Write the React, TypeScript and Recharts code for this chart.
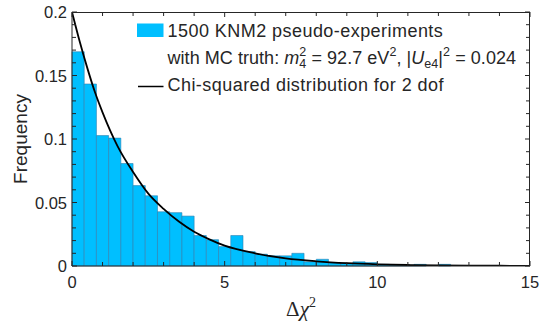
import {
  ComposedChart,
  Line,
  ReferenceArea,
  XAxis,
  YAxis,
} from "recharts";

// histogram: left bin edges (width 0.4) and frequency of each bin
const binEdges = [
  0, 0.4, 0.8, 1.2, 1.6, 2.0, 2.4, 2.8, 3.2, 3.6, 4.0, 4.4, 4.8, 5.2, 5.6, 6.0,
  6.4, 6.8, 7.2, 7.6, 8.0, 8.4, 8.8, 9.2, 9.6, 10.0, 10.4, 10.8, 11.2, 11.6, 12.0,
];
const binFreq = [
  0.1687, 0.1433, 0.1027, 0.1007, 0.0807, 0.0633, 0.0553, 0.0427, 0.042, 0.0393,
  0.024, 0.0207, 0.0153, 0.024, 0.0113, 0.0093, 0.008, 0.008, 0.01, 0.0033,
  0.0053, 0.0027, 0.002, 0.0033, 0.0027, 0.0013, 0.0007, 0.0007, 0.0013, 0,
  0.0013,
];
const BIN_WIDTH = 0.4;

// chi-squared curve
const curveX = [0, 0.25, 0.5, 0.75, 1, 1.5, 2, 2.5, 3, 3.5, 4, 4.5, 5, 6, 7, 8, 9, 10, 11, 12, 13, 14, 15];
const curveY = [
  0.2, 0.177, 0.156, 0.137, 0.121, 0.094, 0.074, 0.057, 0.045, 0.035, 0.027, 0.021,
  0.016, 0.01, 0.006, 0.0037, 0.0022, 0.0013, 0.0008, 0.0005, 0.0003, 0.0002, 0.0001,
];

const xTicks = [0, 1, 2, 3, 4, 5, 6, 7, 8, 9, 10, 11, 12, 13, 14, 15];
const yTicks = [
  0, 0.01, 0.02, 0.03, 0.04, 0.05, 0.06, 0.07, 0.08, 0.09, 0.1, 0.11, 0.12, 0.13,
  0.14, 0.15, 0.16, 0.17, 0.18, 0.19, 0.2,
];
const X_MAX = 15;
const Y_MAX = 0.2;

const W = 547;
const H = 321;
const MARGIN = { top: 12, right: 17, bottom: 25, left: 0 };
const Y_AXIS_W = 72;
const X_AXIS_H = 30;
// plot box that follows from the margins and axis sizes above
const BOX = {
  left: MARGIN.left + Y_AXIS_W,
  top: MARGIN.top,
  right: W - MARGIN.right,
  bottom: H - MARGIN.bottom - X_AXIS_H,
};

const AXIS = "#262626";
const BAR = "#00BFFF";
const FONT = '"Liberation Sans", Arial, sans-serif';

const curveData = curveX.map((x, i) => ({ x, y: curveY[i] }));

const isMajorX = (v: number) => v % 5 === 0;
const isMajorY = (v: number) => Math.round(v * 100) % 5 === 0;

function BottomTick(props: any) {
  const { x, y, payload } = props;
  const major = isMajorX(payload.value);
  return (
    <g>
      <line x1={x} x2={x} y1={y} y2={y - (major ? 5 : 4)} stroke={AXIS} />
      {major && (
        <text x={x} y={y + 22} textAnchor="middle" fontSize={16.5} fill={AXIS} fontFamily={FONT}>
          {payload.value}
        </text>
      )}
    </g>
  );
}

function LeftTick(props: any) {
  const { x, y, payload } = props;
  const major = isMajorY(payload.value);
  return (
    <g>
      <line x1={x} x2={x + (major ? 5 : 4)} y1={y} y2={y} stroke={AXIS} />
      {major && (
        <text x={x - 5} y={y + 6} textAnchor="end" fontSize={16.5} fill={AXIS} fontFamily={FONT}>
          {String(payload.value)}
        </text>
      )}
    </g>
  );
}

// top and right edges of the box, ticks pointing inward
function BoxEdges() {
  const w = BOX.right - BOX.left;
  const h = BOX.bottom - BOX.top;
  return (
    <g stroke={AXIS} strokeWidth={1}>
      <line x1={BOX.left} x2={BOX.right} y1={BOX.top + 0.5} y2={BOX.top + 0.5} />
      <line x1={BOX.right - 0.5} x2={BOX.right - 0.5} y1={BOX.top} y2={BOX.bottom} />
      {xTicks.map((v) => {
        const tx = BOX.left + (w * v) / X_MAX;
        return <line key={"t" + v} x1={tx} x2={tx} y1={BOX.top} y2={BOX.top + (isMajorX(v) ? 5 : 4)} />;
      })}
      {yTicks.map((v) => {
        const ty = BOX.bottom - (h * v) / Y_MAX;
        return <line key={"r" + v} x1={BOX.right} x2={BOX.right - (isMajorY(v) ? 5 : 4)} y1={ty} y2={ty} />;
      })}
    </g>
  );
}

export default function App() {
  return (
    <div style={{ position: "absolute", left: 0, top: 0, width: W, height: H, background: "#fff" }}>
      <ComposedChart width={W} height={H} margin={MARGIN}>
        <XAxis
          dataKey="x"
          type="number"
          domain={[0, X_MAX]}
          allowDataOverflow
          ticks={xTicks}
          interval={0}
          tickSize={0}
          tickMargin={0}
          tickLine={false}
          tick={<BottomTick />}
          height={X_AXIS_H}
          axisLine={{ stroke: AXIS }}
        />
        <YAxis
          type="number"
          domain={[0, Y_MAX]}
          allowDataOverflow
          ticks={yTicks}
          interval={0}
          tickSize={0}
          tickMargin={0}
          tickLine={false}
          tick={<LeftTick />}
          width={Y_AXIS_W}
          axisLine={{ stroke: AXIS }}
        />
        {binEdges.map((x0, i) =>
          binFreq[i] > 0 ? (
            <ReferenceArea
              key={i}
              x1={x0}
              x2={x0 + BIN_WIDTH}
              y1={0}
              y2={binFreq[i]}
              fill={BAR}
              fillOpacity={1}
              stroke="#2f7fae"
              strokeWidth={0.6}
              ifOverflow="extendDomain"
            />
          ) : null
        )}
        <Line
          data={curveData}
          dataKey="y"
          type="monotone"
          stroke="#000"
          strokeWidth={1.8}
          dot={false}
          activeDot={false}
          isAnimationActive={false}
        />
      </ComposedChart>
      <svg
        width={W}
        height={H}
        style={{ position: "absolute", left: 0, top: 0, pointerEvents: "none" }}
        fontFamily={FONT}
        fill={AXIS}
      >
        <BoxEdges />
        <rect x={137} y={23.5} width={26.5} height={13.5} fill={BAR} />
        <g fontSize={18}>
          <text x={167.5} y={37} letterSpacing={0.45}>1500 KNM2 pseudo-experiments</text>
          <text x={167.5} y={63.5} letterSpacing={0.05}>
            {"with MC truth: "}
            <tspan fontStyle="italic">m</tspan>
            <tspan fontSize={12.5} dy={-7.5}>2</tspan>
            <tspan fontSize={12.5} dx={-7} dy={12}>4</tspan>
            <tspan dy={-4.5}>{" = 92.7 eV"}</tspan>
            <tspan fontSize={12.5} dy={-7.5}>2</tspan>
            <tspan dy={7.5}>{", |"}</tspan>
            <tspan fontStyle="italic">U</tspan>
            <tspan fontSize={12.5} dy={4.5}>e4</tspan>
            <tspan dy={-4.5}>|</tspan>
            <tspan fontSize={12.5} dy={-7.5}>2</tspan>
            <tspan dy={7.5}>{" = 0.024"}</tspan>
          </text>
          <text x={167.5} y={91} letterSpacing={0.45}>Chi-squared distribution for 2 dof</text>
        </g>
        <line x1={138} x2={163.5} y1={86.5} y2={86.5} stroke="#000" strokeWidth={1.5} />
        <text x={27} y={139} fontSize={19} textAnchor="middle" transform="rotate(-90 27 139)">
          Frequency
        </text>
        <text x={301} y={316} textAnchor="middle" fontSize={21} fontFamily='"Liberation Serif", "DejaVu Serif", serif'>
          {"Δ"}
          <tspan fontStyle="italic">χ</tspan>
          <tspan fontSize={14} dy={-9}>2</tspan>
        </text>
      </svg>
    </div>
  );
}
